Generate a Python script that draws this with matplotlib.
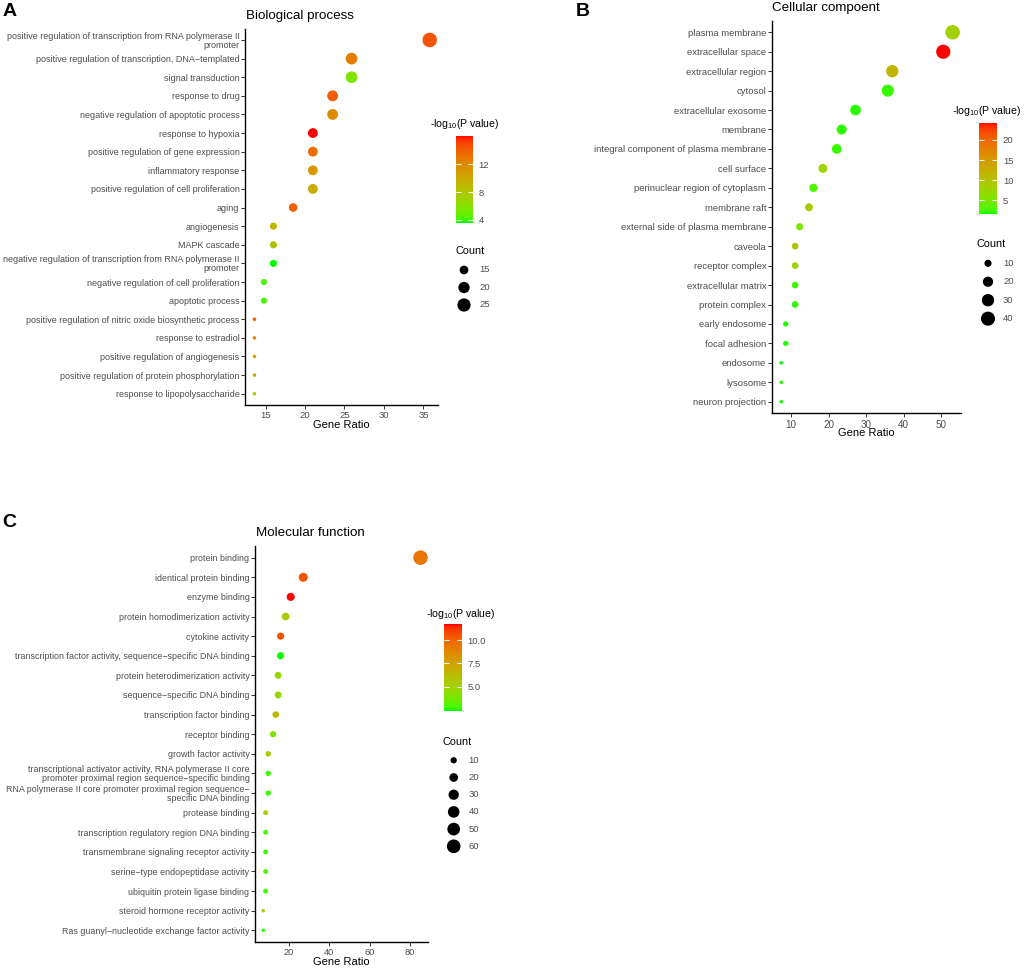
import numpy as np
import matplotlib
matplotlib.use("Agg")
import matplotlib.pyplot as plt
from matplotlib.colors import ListedColormap, Normalize
from matplotlib.cm import ScalarMappable

plt.rcParams['font.family'] = ['Liberation Sans', 'DejaVu Sans']
plt.rcParams['mathtext.default'] = 'regular'

#%% data
bp_terms = ["positive regulation of transcription from RNA polymerase II\npromoter",
            "positive regulation of transcription, DNA\u2212templated",
            "signal transduction", "response to drug",
            "negative regulation of apoptotic process", "response to hypoxia",
            "positive regulation of gene expression", "inflammatory response",
            "positive regulation of cell proliferation", "aging", "angiogenesis",
            "MAPK cascade",
            "negative regulation of transcription from RNA polymerase II\npromoter",
            "negative regulation of cell proliferation", "apoptotic process",
            "positive regulation of nitric oxide biosynthetic process",
            "response to estradiol", "positive regulation of angiogenesis",
            "positive regulation of protein phosphorylation",
            "response to lipopolysaccharide"]
bp_ratio = [35.8, 25.9, 25.9, 23.5, 23.5, 21.0, 21.0, 21.0, 21.0, 18.5,
            16.0, 16.0, 16.0, 14.8, 14.8, 13.6, 13.6, 13.6, 13.6, 13.6]
bp_count = [29, 21, 21, 19, 19, 17, 17, 17, 17, 15, 13, 13, 13, 12, 12, 11, 11, 11, 11, 11]
bp_logp = [14.5, 12.6, 5.7, 14.2, 11.8, 16.1, 13.4, 11.1, 9.7, 13.9,
           9.2, 8.3, 3.6, 4.2, 4.1, 14.2, 12.1, 10.9, 9.9, 8.0]

cc_terms = ["plasma membrane", "extracellular space", "extracellular region", "cytosol",
            "extracellular exosome", "membrane", "integral component of plasma membrane",
            "cell surface", "perinuclear region of cytoplasm", "membrane raft",
            "external side of plasma membrane", "caveola", "receptor complex",
            "extracellular matrix", "protein complex", "early endosome", "focal adhesion",
            "endosome", "lysosome", "neuron projection"]
cc_ratio = [53.1, 50.6, 37.0, 35.8, 27.2, 23.5, 22.2, 18.5, 16.0, 14.8,
            12.3, 11.1, 11.1, 11.1, 11.1, 8.6, 8.6, 7.4, 7.4, 7.4]
cc_count = [43, 41, 30, 29, 22, 19, 18, 15, 13, 12, 10, 9, 9, 9, 9, 7, 7, 6, 6, 6]
cc_logp = [8.2, 24.3, 11.8, 2.3, 2.0, 2.0, 2.3, 7.6, 2.9, 8.8,
           4.9, 9.5, 7.4, 2.3, 2.0, 1.8, 1.8, 1.5, 1.7, 1.6]

mf_terms = ["protein binding", "identical protein binding", "enzyme binding",
            "protein homodimerization activity", "cytokine activity",
            "transcription factor activity, sequence\u2212specific DNA binding",
            "protein heterodimerization activity", "sequence\u2212specific DNA binding",
            "transcription factor binding", "receptor binding", "growth factor activity",
            "transcriptional activator activity, RNA polymerase II core\npromoter proximal region sequence\u2212specific binding",
            "RNA polymerase II core promoter proximal region sequence\u2212\nspecific DNA binding",
            "protease binding", "transcription regulatory region DNA binding",
            "transmembrane signaling receptor activity",
            "serine\u2212type endopeptidase activity", "ubiquitin protein ligase binding",
            "steroid hormone receptor activity",
            "Ras guanyl\u2212nucleotide exchange factor activity"]
mf_ratio = [85.2, 27.2, 21.0, 18.5, 16.0, 16.0, 14.8, 14.8, 13.6, 12.3,
            9.9, 9.9, 9.9, 8.6, 8.6, 8.6, 8.6, 8.6, 7.4, 7.4]
mf_count = [69, 22, 17, 15, 13, 13, 12, 12, 11, 10, 8, 8, 8, 7, 7, 7, 7, 7, 6, 6]
mf_logp = [9.4, 10.5, 11.7, 5.2, 10.5, 2.4, 4.7, 4.7, 6.3, 4.1,
           5.2, 2.8, 2.7, 5.1, 2.8, 2.8, 2.9, 2.8, 5.3, 2.6]

#%% green -> red gradient interpolated in Lab (like ggplot)
WHITE = np.array([0.95047, 1.0, 1.08883])
M = np.array([[0.4124, 0.3576, 0.1805], [0.2126, 0.7152, 0.0722], [0.0193, 0.1192, 0.9505]])


def to_lab(rgb):
    c = np.asarray(rgb, float)
    lin = np.where(c <= 0.04045, c / 12.92, ((c + 0.055) / 1.055) ** 2.4)
    xyz = M @ lin / WHITE
    f = np.where(xyz > (6 / 29) ** 3, np.cbrt(xyz), xyz / (3 * (6 / 29) ** 2) + 4 / 29)
    return np.array([116 * f[1] - 16, 500 * (f[0] - f[1]), 200 * (f[1] - f[2])])


def from_lab(lab):
    fy = (lab[0] + 16) / 116
    f = np.array([fy + lab[1] / 500, fy, fy - lab[2] / 200])
    xyz = np.where(f > 6 / 29, f ** 3, 3 * (6 / 29) ** 2 * (f - 4 / 29)) * WHITE
    lin = np.clip(np.linalg.inv(M) @ xyz, 0, 1)
    return np.clip(np.where(lin <= 0.0031308, 12.92 * lin, 1.055 * lin ** (1 / 2.4) - 0.055), 0, 1)


lo, hi = to_lab([0, 1, 0]), to_lab([1, 0, 0])
cmap = ListedColormap([from_lab(lo + t * (hi - lo)) for t in np.linspace(0, 1, 256)])

#%% layout helpers (pixel coords of the 1024x968 picture)
W, H = 1024, 968
GREY = '#4D4D4D'


def rect(l, t, r, b):
    return [l / W, 1 - b / H, (r - l) / W, (b - t) / H]


def size_pt2(c, cmin, cmax):
    d = 3.5 + 11.0 * np.sqrt((np.asarray(c, float) - cmin) / (cmax - cmin))
    return (d * 0.72) ** 2


fig = plt.figure(figsize=(10.24, 9.68), dpi=100)


def panel(terms, ratio, count, logp, box, xlim, xticks, title, letter, letter_xy,
          title_xy, xlabel_y, cbar_box, cbar_ticks, cbar_fmt, leg_title_xy,
          count_xy, count_breaks, count_first, count_pitch, lab_fs):
    n = len(terms)
    ax = fig.add_axes(rect(*box))
    norm = Normalize(min(logp), max(logp))
    cmin, cmax = min(count), max(count)
    ax.scatter(ratio, np.arange(n), s=size_pt2(count, cmin, cmax), c=logp,
               cmap=cmap, norm=norm, linewidths=0, zorder=3, clip_on=False)
    ax.set_ylim(n - 0.4, -0.6)
    ax.set_xlim(*xlim)
    ax.set_xticks(xticks)
    ax.set_yticks(np.arange(n))
    ax.set_yticklabels(terms, linespacing=1.0)
    for s in ['top', 'right']:
        ax.spines[s].set_visible(False)
    for s in ['left', 'bottom']:
        ax.spines[s].set_linewidth(1.0)
    ax.tick_params(axis='y', labelsize=lab_fs, colors='#333333', labelcolor=GREY,
                   length=3, width=0.7, pad=1)
    ax.tick_params(axis='x', labelsize=lab_fs + 0.3, colors='#333333', labelcolor=GREY,
                   length=3, width=0.7, pad=1.5)
    fig.text((box[0] + box[2]) / 2 / W, 1 - xlabel_y / H, "Gene Ratio",
             ha='center', va='center', fontsize=8)
    fig.text(title_xy[0] / W, 1 - title_xy[1] / H, title, ha='left', va='center',
             fontsize=9.6)
    fig.text(letter_xy[0] / W, 1 - letter_xy[1] / H, letter, ha='left', va='center',
             fontsize=14, fontweight='bold')

    # colour bar
    cax = fig.add_axes(rect(*cbar_box))
    cb = fig.colorbar(ScalarMappable(norm=norm, cmap=cmap), cax=cax, ticks=cbar_ticks,
                      format=cbar_fmt)
    cb.outline.set_visible(False)
    cax.tick_params(direction='in', color='white', labelcolor=GREY, length=3.5,
                    width=0.8, left=True, right=True, labelsize=6.8, pad=4)
    fig.text(leg_title_xy[0] / W, 1 - leg_title_xy[1] / H, "-log$_{10}$(P value)",
             ha='left', va='center', fontsize=7.6)

    # size legend
    fig.text(count_xy[0] / W, 1 - count_xy[1] / H, "Count", ha='left', va='center',
             fontsize=7.8)
    k = len(count_breaks)
    dx, y0 = count_first
    lax = fig.add_axes(rect(dx - 10, y0 - count_pitch / 2, dx + 40,
                            y0 + (k - 0.5) * count_pitch))
    lax.scatter(np.zeros(k), np.arange(k), s=size_pt2(count_breaks, cmin, cmax),
                color='black', linewidths=0, clip_on=False)
    for i, b in enumerate(count_breaks):
        lax.text(15, i, str(b), ha='left', va='center', fontsize=6.8, color=GREY)
    lax.set_xlim(-10, 40)
    lax.set_ylim(k - 0.5, -0.5)
    lax.axis('off')
    return ax


panel(bp_terms, bp_ratio, bp_count, bp_logp, (245, 28.8, 438, 404.9), (12.4, 36.85),
      [15, 20, 25, 30, 35], "Biological process", "A", (3, 11), (245.5, 16), 425,
      (456, 136, 473, 222.7), [4, 8, 12], '%d', (430, 124), (456, 251),
      [15, 20, 25], (464, 270), 17.5, 6.5)

panel(cc_terms, cc_ratio, cc_count, cc_logp, (771.7, 20.6, 960.7, 413.4), (4.85, 55.25),
      [10, 20, 30, 40, 50], "Cellular compoent", "B", (576, 11), (772, 8), 433.3,
      (979.3, 122.7, 997.3, 214.3), [5, 10, 15, 20], '%d', (951.7, 111), (976.7, 243.7),
      [10, 20, 30, 40], (988, 263.3), 18.45, 6.8)

panel(mf_terms, mf_ratio, mf_count, mf_logp, (255, 545.9, 428.3, 942.1), (3.35, 89.05),
      [20, 40, 60, 80], "Molecular function", "C", (2, 522.5), (255.5, 533.3), 962.3,
      (444.3, 624.3, 461.7, 710.7), [5.0, 7.5, 10.0], '%.1f', (426, 614.3), (442.7, 741.7),
      [10, 20, 30, 40, 50, 60], (453.7, 760.3), 17.2, 6.4)

fig.savefig("out.png", dpi=100)
